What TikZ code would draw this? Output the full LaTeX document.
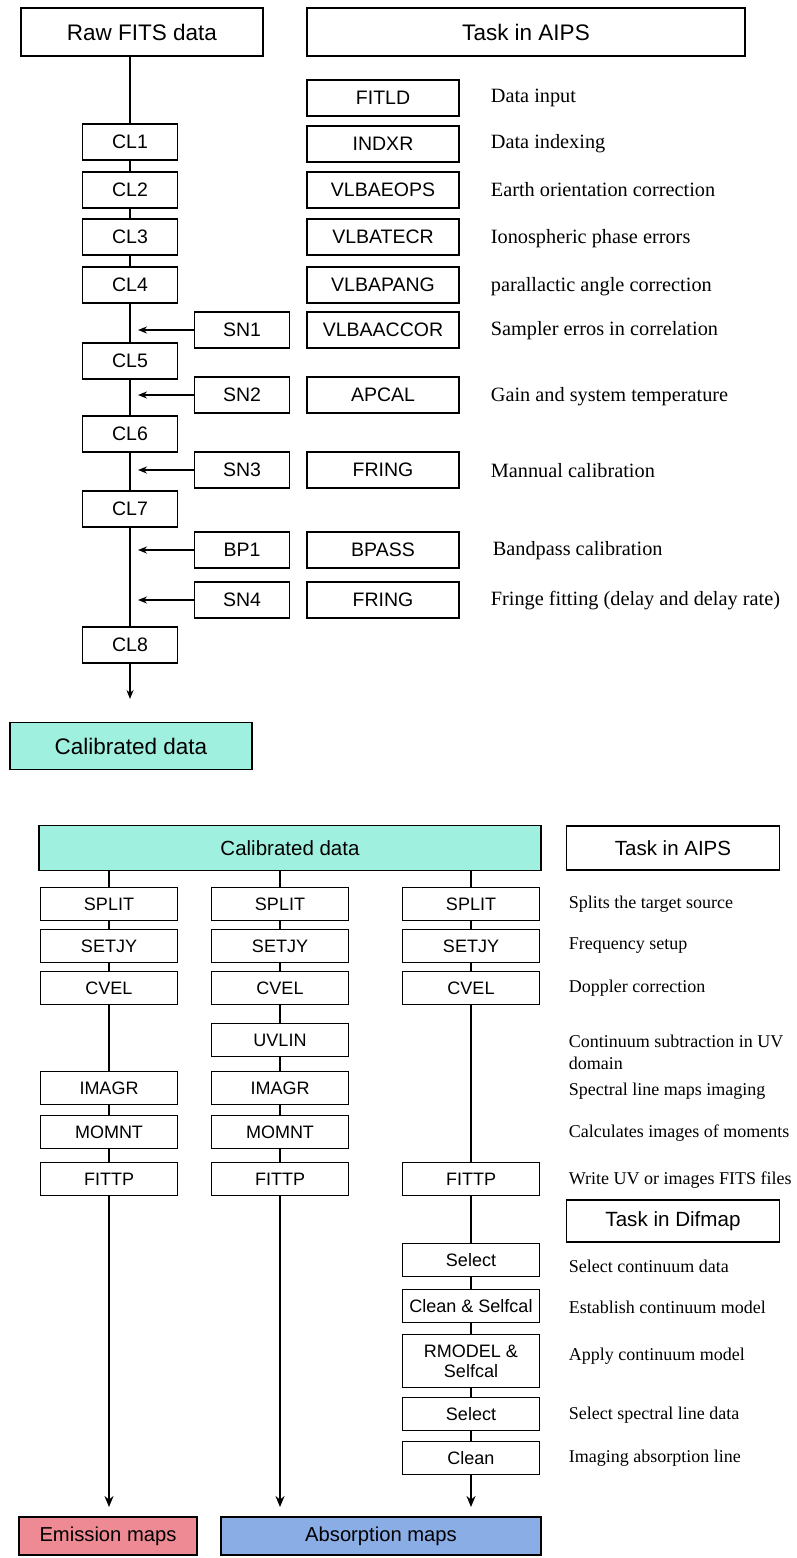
\documentclass[tikz,border=0pt]{standalone}
\usepackage{fontspec}
\setmainfont{Liberation Serif}
\setsansfont{Liberation Sans}
\usetikzlibrary{arrows.meta,positioning}

\definecolor{calib}{HTML}{A0F0DF}
\definecolor{emis}{HTML}{EE8A94}
\definecolor{absorp}{HTML}{8AADE6}

\begin{document}
\begin{tikzpicture}[x=1pt, y=-1pt, line width=1.7pt,
  >={Stealth[length=9pt, width=7pt]},
  head/.style={draw, font=\sffamily\fontsize{22.5}{26}\selectfont, minimum height=48pt, inner sep=0pt},
  clbox/.style={draw, font=\sffamily\fontsize{19.5}{23}\selectfont, minimum width=95pt, minimum height=36pt, inner sep=0pt},
  task/.style={clbox, minimum width=152pt},
  colbox/.style={draw, font=\sffamily\fontsize{18}{20}\selectfont, minimum width=137pt, minimum height=33pt, inner sep=0pt, align=center},
  desc/.style={anchor=west, font=\fontsize{20.3}{24}\selectfont, align=left, inner sep=0pt},
  desc2/.style={desc, font=\fontsize{18}{22}\selectfont},
  link/.style={line width=2.4pt, >={Stealth[length=11pt, width=9pt]}},
  feed/.style={->, shorten >=8pt}]
\useasboundingbox (0,0) rectangle (796,1558);

% ---- calibration in AIPS ----
\node[head, minimum width=242pt] (raw) at (142,32) {Raw FITS data};
\node[head, minimum width=438pt] (aips) at (526,32) {Task in AIPS};

\node[clbox] (cl1) at (130,142) {CL1};
\node[clbox] (cl2) at (130,190) {CL2};
\node[clbox] (cl3) at (130,237) {CL3};
\node[clbox] (cl4) at (130,285) {CL4};
\node[clbox] (cl5) at (130,361) {CL5};
\node[clbox] (cl6) at (130,434) {CL6};
\node[clbox] (cl7) at (130,509) {CL7};
\node[clbox] (cl8) at (130,645) {CL8};
\coordinate (clend) at (130,699);

\node[clbox] (sn1) at (242,330) {SN1};
\node[clbox] (sn2) at (242,395) {SN2};
\node[clbox] (sn3) at (242,470) {SN3};
\node[clbox] (bp1) at (242,550) {BP1};
\node[clbox] (sn4) at (242,600) {SN4};

\node[task] (fitld) at (383,98) {FITLD};
\node[task] (indxr) at (383,144) {INDXR};
\node[task] (eops) at (383,190) {VLBAEOPS};
\node[task] (tecr) at (383,237) {VLBATECR};
\node[task] (pang) at (383,285) {VLBAPANG};
\node[task] (accor) at (383,330) {VLBAACCOR};
\node[task] (apcal) at (383,395) {APCAL};
\node[task] (fring1) at (383,470) {FRING};
\node[task] (bpass) at (383,550) {BPASS};
\node[task] (fring2) at (383,600) {FRING};

\node[desc] at (490,98) {Data input};
\node[desc] at (490,144) {Data indexing};
\node[desc] at (490,190) {Earth orientation correction};
\node[desc] at (490,239) {Ionospheric phase errors};
\node[desc] at (490,287) {parallactic angle correction};
\node[desc] at (490,331) {Sampler erros in correlation};
\node[desc] at (490,397) {Gain and system temperature};
\node[desc] at (490,471) {Mannual calibration};
\node[desc] at (492,551) {Bandpass calibration};
\node[desc] at (490,601) {Fringe fitting (delay and delay rate)};

\node[head, fill=calib, minimum width=242pt, minimum height=47pt] (cal1) at (131,746) {Calibrated data};

\draw (cl1 |- raw.south) -- (cl1);
\draw (cl1) -- (cl2);
\draw (cl2) -- (cl3);
\draw (cl3) -- (cl4);
\draw (cl4) -- (cl5);
\draw (cl5) -- (cl6);
\draw (cl6) -- (cl7);
\draw (cl7) -- (cl8);
\draw[->] (cl8) -- (clend);
\draw[feed] (sn1) -- (sn1 -| cl4);
\draw[feed] (sn2) -- (sn2 -| cl5);
\draw[feed] (sn3) -- (sn3 -| cl6);
\draw[feed] (bp1) -- (bp1 -| cl7);
\draw[feed] (sn4) -- (sn4 -| cl7);

% ---- imaging ----
\node[head, fill=calib, font=\sffamily\fontsize{20.5}{24}\selectfont, minimum width=502pt, minimum height=45pt] (cal2) at (290,848) {Calibrated data};
\node[head, font=\sffamily\fontsize{20.5}{24}\selectfont, minimum width=213pt, minimum height=44pt] (aips2) at (673,848) {Task in AIPS};

\node[colbox] (split1) at (109,904) {SPLIT};
\node[colbox] (setjy1) at (109,946) {SETJY};
\node[colbox] (cvel1) at (109,988) {CVEL};
\node[colbox] (imagr1) at (109,1088) {IMAGR};
\node[colbox] (momnt1) at (109,1132) {MOMNT};
\node[colbox] (fittp1) at (109,1179) {FITTP};
\coordinate (end1) at (109,1507);

\node[colbox] (split2) at (280,904) {SPLIT};
\node[colbox] (setjy2) at (280,946) {SETJY};
\node[colbox] (cvel2) at (280,988) {CVEL};
\node[colbox] (uvlin2) at (280,1040) {UVLIN};
\node[colbox] (imagr2) at (280,1088) {IMAGR};
\node[colbox] (momnt2) at (280,1132) {MOMNT};
\node[colbox] (fittp2) at (280,1179) {FITTP};
\coordinate (end2) at (280,1507);

\node[colbox] (split3) at (471,904) {SPLIT};
\node[colbox] (setjy3) at (471,946) {SETJY};
\node[colbox] (cvel3) at (471,988) {CVEL};
\node[colbox] (fittp3) at (471,1179) {FITTP};
\node[colbox] (sel3) at (471,1260) {Select};
\node[colbox] (cs3) at (471,1306) {Clean \& Selfcal};
\node[colbox, minimum height=53pt] (rmod3) at (471,1361) {RMODEL \&\\Selfcal};
\node[colbox] (selb3) at (471,1414) {Select};
\node[colbox] (clean3) at (471,1458) {Clean};
\coordinate (end3) at (471,1507);

\node[head, font=\sffamily\fontsize{20.6}{24}\selectfont, minimum width=213pt, minimum height=42pt] (difmap) at (673,1221) {Task in Difmap};

\node[desc2] at (568,904) {Splits the target source};
\node[desc2] at (568,946) {Frequency setup};
\node[desc2] at (568,988) {Doppler correction};
\node[desc2] at (568,1052) {Continuum subtraction in UV\\domain};
\node[desc2] at (568,1091) {Spectral line maps imaging};
\node[desc2] at (568,1133) {Calculates images of moments};
\node[desc2] at (568,1180) {Write UV or images FITS files};
\node[desc2] at (568,1266) {Select continuum data};
\node[desc2] at (568,1307) {Establish continuum model};
\node[desc2] at (568,1356) {Apply continuum model};
\node[desc2] at (568,1415) {Select spectral line data};
\node[desc2] at (568,1458) {Imaging absorption line};

\node[head, fill=emis, font=\sffamily\fontsize{20.2}{24}\selectfont, minimum width=178pt, minimum height=38pt] (emission) at (108,1536) {Emission maps};
\node[head, fill=absorp, font=\sffamily\fontsize{20.2}{24}\selectfont, minimum width=320pt, minimum height=38pt] (absorption) at (381,1536) {Absorption maps};

\begin{scope}[link]
\draw (split1 |- cal2.south) -- (split1);
\draw (split2 |- cal2.south) -- (split2);
\draw (split3 |- cal2.south) -- (split3);
\draw (split1) -- (setjy1);
\draw (setjy1) -- (cvel1);
\draw (cvel1) -- (imagr1);
\draw (imagr1) -- (momnt1);
\draw (momnt1) -- (fittp1);
\draw[->] (fittp1) -- (end1);
\draw (split2) -- (setjy2);
\draw (setjy2) -- (cvel2);
\draw (cvel2) -- (uvlin2);
\draw (uvlin2) -- (imagr2);
\draw (imagr2) -- (momnt2);
\draw (momnt2) -- (fittp2);
\draw[->] (fittp2) -- (end2);
\draw (split3) -- (setjy3);
\draw (setjy3) -- (cvel3);
\draw (cvel3) -- (fittp3);
\draw (fittp3) -- (sel3);
\draw (sel3) -- (cs3);
\draw (cs3) -- (rmod3);
\draw (rmod3) -- (selb3);
\draw (selb3) -- (clean3);
\draw[->] (clean3) -- (end3);
\end{scope}
\end{tikzpicture}
\end{document}
